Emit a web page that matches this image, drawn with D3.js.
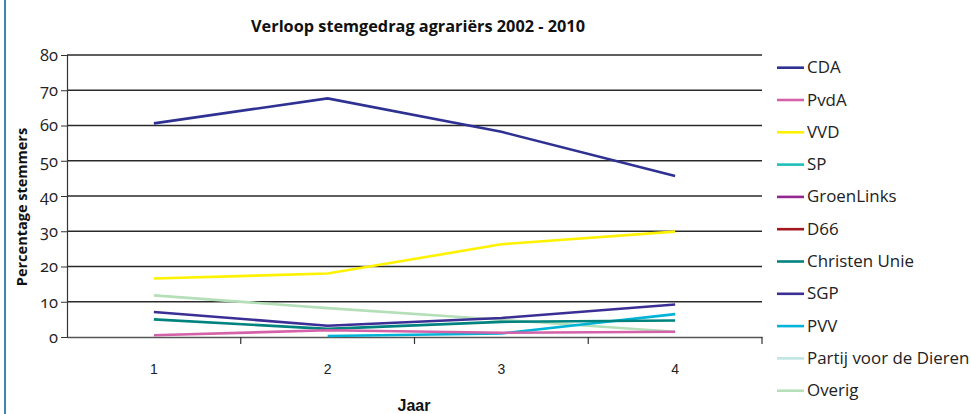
<!DOCTYPE html>
<html>
<head>
<meta charset="utf-8">
<script src="https://cdn.jsdelivr.net/npm/d3@7"></script>
<style>
body{margin:0;background:#fff;}
svg{display:block;}
</style>
</head>
<body>
<svg width="971" height="414"></svg>
<script>
try{

/*========================================
	Data
========================================*/
var years = ["1","2","3","4"];
var yTicks = [0,10,20,30,40,50,60,70,80];

var parties = ["CDA","PvdA","VVD","SP","GroenLinks","D66","Christen Unie","SGP","PVV","Partij voor de Dieren","Overig"];
var partyColors = ["#2e3192","#d462a8","#fff200","#1fbfb8","#92278f","#a3171e","#00827f","#3b2e95","#00b4d8","#bfe6e3","#b5dfb9"];

var cda = [60.6,67.7,58.2,45.7];
var pvda = [0.5,1.9,1.2,1.5];
var vvd = [16.6,18.0,26.3,29.9];
var sp = [null,null,null,null];
var groenlinks = [null,null,null,null];
var d66 = [null,null,null,null];
var christenUnie = [5.0,2.3,4.3,4.7];
var sgp = [7.1,3.2,5.4,9.2];
var pvv = [null,0.3,1.0,6.5];
var pvdd = [null,null,null,null];
var overig = [11.8,8.2,4.9,1.5];

var seriesValues = [cda,pvda,vvd,sp,groenlinks,d66,christenUnie,sgp,pvv,pvdd,overig];

/*========================================
	Setup
========================================*/
var svg = d3.select("svg");

var plot = {left:67,right:762,top:55,bottom:337};

// left frame line
svg.append("line")
	.attr("x1",5).attr("x2",5)
	.attr("y1",0).attr("y2",414)
	.attr("stroke","#3d86b5")
	.attr("stroke-width",2);

var x = d3.scaleBand()
	.domain(years)
	.range([plot.left,plot.right]);

var y = d3.scaleLinear()
	.domain([0,80])
	.range([plot.bottom,plot.top]);

// gridlines
svg.append("g")
	.selectAll("line")
	.data(yTicks.filter(function(d){return d>0;}))
	.enter().append("line")
	.attr("x1",plot.left).attr("x2",plot.right)
	.attr("y1",function(d){return y(d);})
	.attr("y2",function(d){return y(d);})
	.attr("stroke","#2a2a2a")
	.attr("stroke-width",1.5);

// y axis
var yAxis = svg.append("g")
	.attr("transform","translate("+plot.left+",0)")
	.call(d3.axisLeft(y).tickValues(yTicks).tickSize(6).tickPadding(3));
yAxis.select(".domain").attr("stroke","#333").attr("stroke-width",1.2);
yAxis.selectAll(".tick line").attr("stroke","#333");
yAxis.selectAll(".tick text")
	.style("font-family","Open Sans, Noto Sans, sans-serif")
	.style("font-size","16.5px")
	.style("font-feature-settings","'onum' 1")
	.style("fill","#222");

// x axis
var xAxis = svg.append("g")
	.attr("transform","translate(0,"+plot.bottom+")")
	.call(d3.axisBottom(x).tickSize(0).tickPadding(27));
xAxis.select(".domain").attr("stroke","#555").attr("stroke-width",1.5);
xAxis.selectAll(".tick text")
	.style("font-family","Liberation Sans Narrow, Liberation Sans, sans-serif")
	.style("font-size","14px")
	.style("fill","#222");

// band boundary ticks
svg.append("g")
	.selectAll("line")
	.data(years)
	.enter().append("line")
	.attr("x1",function(d){return x(d)+x.bandwidth();})
	.attr("x2",function(d){return x(d)+x.bandwidth();})
	.attr("y1",plot.bottom).attr("y2",plot.bottom+7)
	.attr("stroke","#333").attr("stroke-width",1.2);

// lines
var line = d3.line()
	.defined(function(d){return d!=null;})
	.x(function(d,i){return x(years[i])+x.bandwidth()/2;})
	.y(function(d){return y(d);});

// draw back to front so CDA ends on top, like the source
seriesValues.slice().reverse().forEach(function(vals,ri){
	var i = seriesValues.length-1-ri;
	svg.append("path")
		.datum(vals)
		.attr("d",line)
		.attr("fill","none")
		.attr("stroke",partyColors[i])
		.attr("stroke-width",2.6);
});

/*========================================
	Legend
========================================*/
var legend = svg.append("g");
parties.forEach(function(p,i){
	var ly = 67.7 + i*32.3;
	legend.append("line")
		.attr("x1",777).attr("x2",804)
		.attr("y1",ly).attr("y2",ly)
		.attr("stroke",partyColors[i])
		.attr("stroke-width",2.6);
	legend.append("text")
		.attr("x",807).attr("y",ly+5.5)
		.attr("font-family","Open Sans, Noto Sans, sans-serif")
		.attr("font-size",16.9)
		.attr("fill","#222")
		.text(p);
});

/*========================================
	Titles
========================================*/
svg.append("text")
	.attr("x",418).attr("y",32)
	.attr("text-anchor","middle")
	.attr("font-family","Open Sans, Noto Sans, sans-serif")
	.attr("font-weight","bold")
	.attr("font-size",16.3)
	.attr("fill","#111")
	.text("Verloop stemgedrag agrariërs 2002 - 2010");

svg.append("text")
	.attr("transform","translate(27,207) rotate(-90)")
	.attr("text-anchor","middle")
	.attr("font-family","Open Sans, Noto Sans, sans-serif")
	.attr("font-weight","bold")
	.attr("font-size",14.5)
	.attr("fill","#111")
	.text("Percentage stemmers");

svg.append("text")
	.attr("x",414).attr("y",411)
	.attr("text-anchor","middle")
	.attr("font-family","Liberation Sans Narrow, Liberation Sans, sans-serif")
	.attr("font-weight","bold")
	.attr("font-size",16)
	.attr("fill","#111")
	.text("Jaar");

} catch (e) {
	console.log(e);
}
</script>
</body>
</html>
